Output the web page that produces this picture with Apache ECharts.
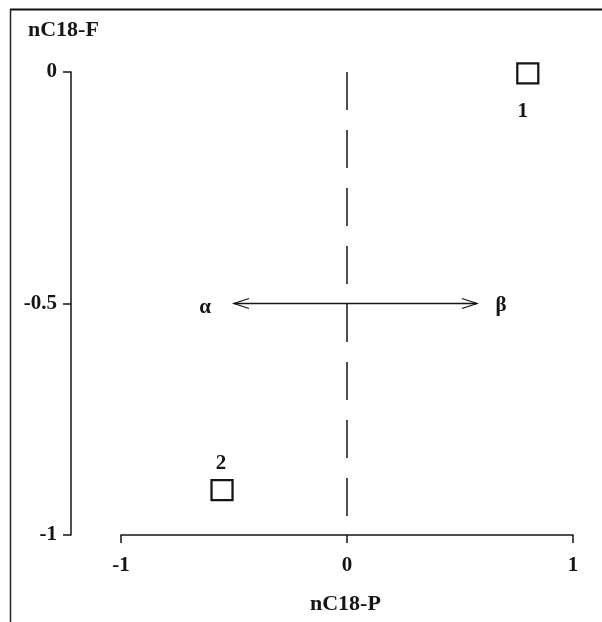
<!DOCTYPE html>
<html>
<head>
<meta charset="utf-8">
<script src="https://cdn.jsdelivr.net/npm/echarts@6/dist/echarts.min.js"></script>
<style>
html,body{margin:0;padding:0;background:#fff;}
#chart{width:602px;height:622px;}
</style>
</head>
<body>
<div id="chart"></div>
<script>
// ---- data ----
var pointLabels = ['1', '2'];
var pointX = [0.80, -0.553];
var pointY = [-0.003, -0.903];
var xTicks = [-1, 0, 1];
var yTicks = [-1, -0.5, 0];
var divider = [[0, 0], [0, -1]];          // dashed vertical line at x = 0
var arrow = [-0.5, 0.575, -0.5];          // x start, x end, y
var arrowEnds = ['α', 'β'];
var xTitle = 'nC18-P';
var yTitle = 'nC18-F';

var FONT = '"Liberation Serif", "DejaVu Serif", serif';
var INK = '#151515';

var chart = echarts.init(document.getElementById('chart'), null, {renderer: 'canvas'});

var scatterData = pointX.map(function (x, i) {
  return {
    value: [x, pointY[i]],
    name: pointLabels[i],
    label: i === 0
      ? {position: 'bottom', distance: 17, offset: [-5, 0]}
      : {position: 'top', distance: 5, offset: [-1, 0]}
  };
});

var option = {
  backgroundColor: '#fff',
  animation: false,
  grid: {left: 121, right: 29, top: 72, bottom: 87, containLabel: false},
  xAxis: {
    type: 'value',
    min: xTicks[0], max: xTicks[xTicks.length - 1], interval: 1,
    axisLine: {show: true, onZero: false, lineStyle: {color: INK, width: 1.5}},
    axisTick: {show: true, length: 8, lineStyle: {color: INK, width: 1.5}},
    axisLabel: {
      margin: 20, color: INK, fontFamily: FONT, fontWeight: 'bold', fontSize: 21,
      formatter: function (v) { return String(v); }
    },
    splitLine: {show: false}
  },
  yAxis: {
    type: 'value',
    min: yTicks[0], max: yTicks[yTicks.length - 1], interval: 0.5,
    offset: 50,
    axisLine: {show: true, onZero: false, lineStyle: {color: INK, width: 1.5}},
    axisTick: {show: true, length: 8, lineStyle: {color: INK, width: 1.5}},
    axisLabel: {
      margin: 14, color: INK, fontFamily: FONT, fontWeight: 'bold', fontSize: 21,
      formatter: function (v) { return String(v); }
    },
    splitLine: {show: false}
  },
  series: [
    {
      type: 'line',
      data: divider,
      symbol: 'none',
      silent: true,
      lineStyle: {color: INK, width: 1.5, type: [38, 20]},
      z: 1
    },
    {
      type: 'custom',
      silent: true,
      data: [arrow],
      z: 2,
      renderItem: function (params, api) {
        var a = api.coord([api.value(0), api.value(2)]);
        var b = api.coord([api.value(1), api.value(2)]);
        var L = 15, H = 5;
        var st = {stroke: INK, lineWidth: 1.3, fill: null};
        return {
          type: 'group',
          children: [
            {type: 'line', shape: {x1: a[0], y1: a[1], x2: b[0], y2: b[1]}, style: st},
            {type: 'polyline', shape: {points: [[a[0] + L, a[1] - H], [a[0], a[1]], [a[0] + L, a[1] + H]]}, style: st},
            {type: 'polyline', shape: {points: [[b[0] - L, b[1] - H], [b[0], b[1]], [b[0] - L, b[1] + H]]}, style: st},
            {type: 'text', x: a[0] - 29, y: a[1] + 4, style: {text: arrowEnds[0], fill: INK, font: 'bold 21px ' + FONT, align: 'center', verticalAlign: 'middle'}},
            {type: 'text', x: b[0] + 24, y: b[1] + 2, style: {text: arrowEnds[1], fill: INK, font: 'bold 21px ' + FONT, align: 'center', verticalAlign: 'middle'}}
          ]
        };
      }
    },
    {
      type: 'scatter',
      data: scatterData,
      symbol: 'rect',
      symbolSize: [21, 20],
      itemStyle: {color: '#fff', borderColor: INK, borderWidth: 2.2, opacity: 1},
      label: {
        show: true,
        formatter: '{b}',
        color: INK, fontFamily: FONT, fontWeight: 'bold', fontSize: 21
      },
      z: 3
    }
  ],
  graphic: [
    {type: 'line', shape: {x1: 10, y1: 9.5, x2: 602, y2: 9.5}, style: {stroke: '#111', lineWidth: 2}},
    {type: 'line', shape: {x1: 10.5, y1: 9, x2: 10.5, y2: 622}, style: {stroke: '#222', lineWidth: 1.5}},
    {type: 'text', left: 28, top: 19, style: {text: yTitle, fill: INK, font: 'bold 22px ' + FONT}},
    {type: 'text', left: 310, top: 593, style: {text: xTitle, fill: INK, font: 'bold 22px ' + FONT}}
  ]
};
chart.setOption(option);
</script>
</body>
</html>
